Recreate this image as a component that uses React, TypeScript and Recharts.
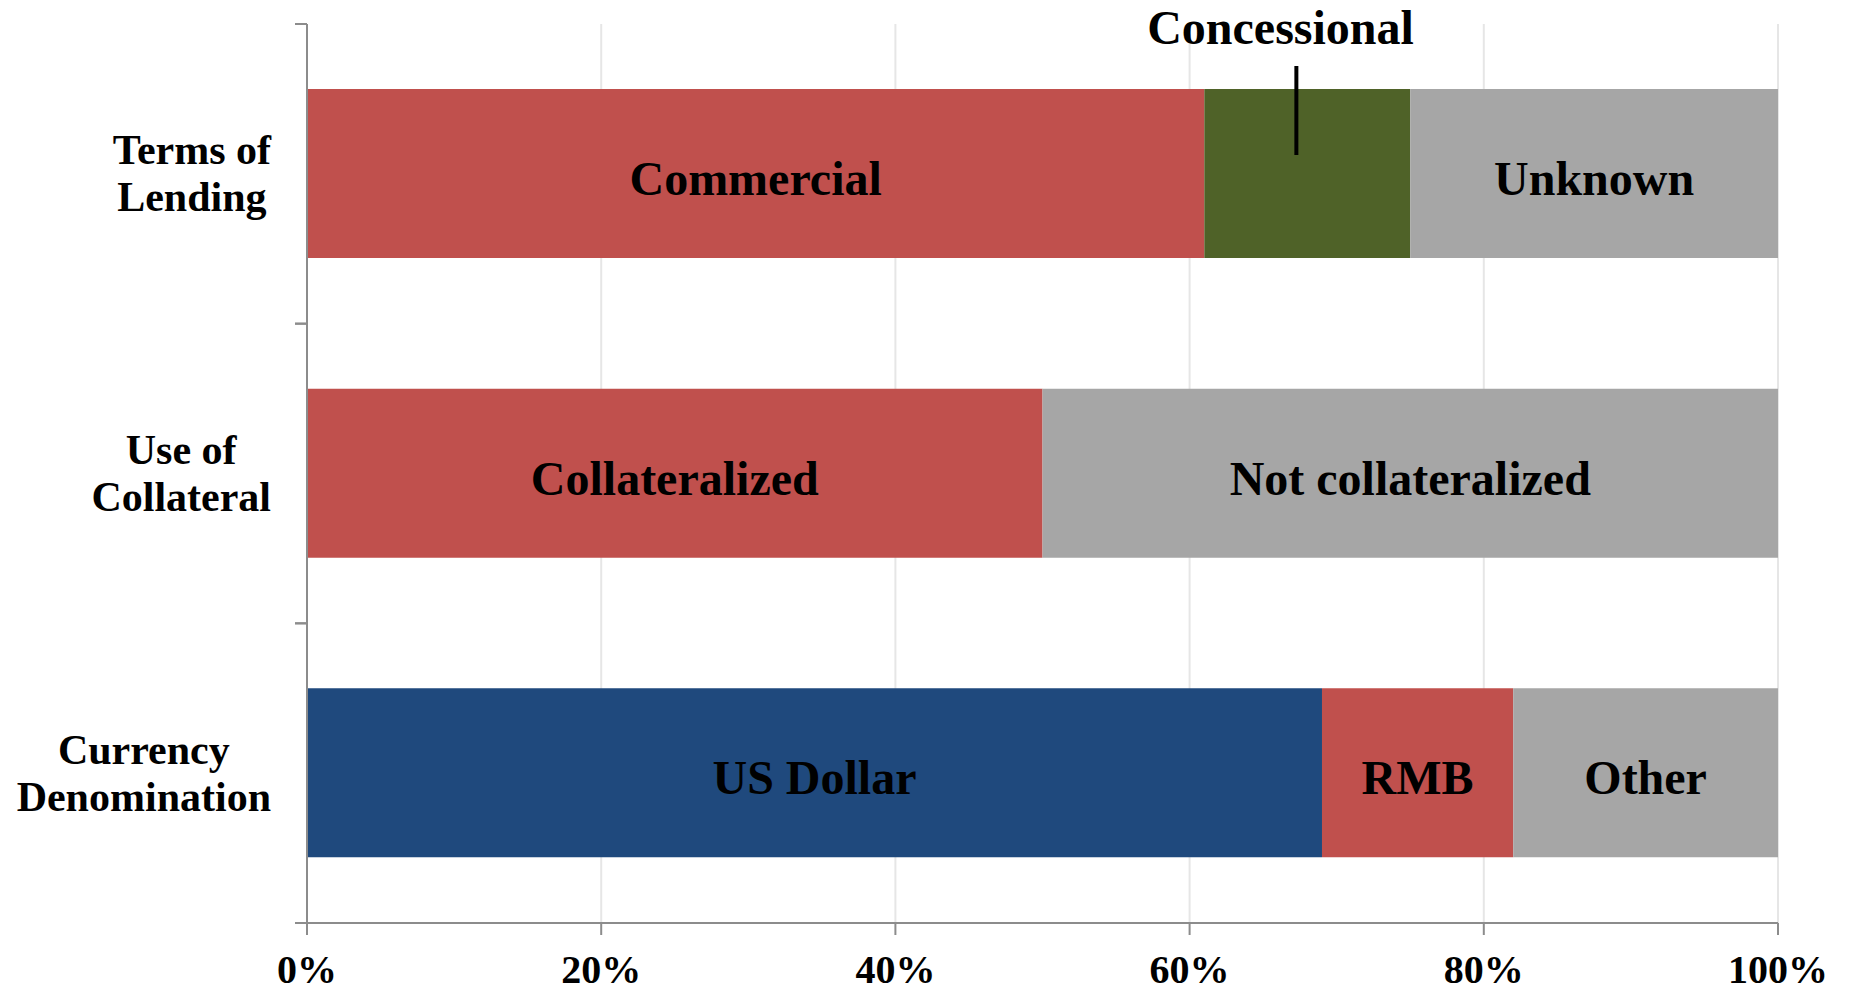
import { BarChart, Bar, XAxis, YAxis, CartesianGrid, Cell, LabelList } from "recharts";

const FONT = "'Liberation Serif', 'Times New Roman', serif";

// rows, top to bottom
const categories = [["Terms of", "Lending"], ["Use of", "Collateral"], ["Currency", "Denomination"]];

// three stacked segments per row (percent)
const seg1Values = [61, 50, 69];
const seg2Values = [14, 50, 13];
const seg3Values = [25, 0, 18];

const seg1Labels = ["Commercial", "Collateralized", "US Dollar"];
const seg2Labels = ["Concessional", "Not collateralized", "RMB"];
const seg3Labels = ["Unknown", "", "Other"];

const xTicks = [0, 20, 40, 60, 80, 100];

const RED = "#C0504D";
const GREEN = "#4F6228";
const GRAY = "#A6A6A6";
const BLUE = "#1F497D";
const AXIS = "#8C8C8C";

const seg1Colors = [RED, RED, BLUE];
const seg2Colors = [GREEN, GRAY, RED];
const seg3Colors = [GRAY, GRAY, GRAY];

const data = categories.map((c, i) => ({
  name: c.join(" "),
  s1: seg1Values[i],
  s2: seg2Values[i],
  s3: seg3Values[i],
  l1: seg1Labels[i],
  l2: seg2Labels[i],
  l3: seg3Labels[i],
}));

// chart is pulled up over the body margin so the top label has room
const W = 1833;
const H = 991;
const MARGIN = { top: 24, right: 63, left: 0, bottom: 8 };
const Y_W = 299;
const X_H = 60;
const PLOT_H = H - MARGIN.top - MARGIN.bottom - X_H;
const BAND = PLOT_H / categories.length;

let ctx: CanvasRenderingContext2D | null = null;
function textWidth(s: string, font: string) {
  if (!ctx) ctx = document.createElement("canvas").getContext("2d");
  if (!ctx) return s.length * 20;
  ctx.font = font;
  return ctx.measureText(s).width;
}

function CategoryTick(props: any) {
  const { y, index } = props;
  const lines = categories[index] || [];
  const axisX = MARGIN.left + Y_W;
  const fs = 42;
  const lh = 47;
  const blockW = Math.max(...lines.map((l) => textWidth(l, `bold ${fs}px ${FONT}`)));
  const cx = axisX - 36 - blockW / 2;
  const y0 = y - ((lines.length - 1) * lh) / 2;
  return (
    <g>
      <line x1={axisX - 12} x2={axisX} y1={y - BAND / 2} y2={y - BAND / 2} stroke={AXIS} strokeWidth={2} />
      <line x1={axisX - 12} x2={axisX} y1={y + BAND / 2} y2={y + BAND / 2} stroke={AXIS} strokeWidth={2} />
      {lines.map((l, i) => (
        <text
          key={l}
          x={cx}
          y={y0 + i * lh}
          textAnchor="middle"
          dominantBaseline="central"
          fontFamily={FONT}
          fontWeight="bold"
          fontSize={fs}
          fill="#000"
        >
          {l}
        </text>
      ))}
    </g>
  );
}

function SegmentLabel(props: any) {
  const { x, y, width, height, value } = props;
  if (!value || !width) return null;
  if (value === "Concessional") {
    return (
      <g>
        <text
          x={x + width * 0.37}
          y={y - 45}
          textAnchor="middle"
          fontFamily={FONT}
          fontWeight="bold"
          fontSize={48}
          fill="#000"
        >
          {value}
        </text>
        <line x1={x + width * 0.447} x2={x + width * 0.447} y1={y - 23} y2={y + 66} stroke="#000" strokeWidth={4} />
      </g>
    );
  }
  return (
    <text
      x={x + width / 2}
      y={y + height / 2 + 5}
      textAnchor="middle"
      dominantBaseline="central"
      fontFamily={FONT}
      fontWeight="bold"
      fontSize={48}
      fill="#000"
    >
      {value}
    </text>
  );
}

export default function App() {
  return (
    <div style={{ width: W, height: H, marginTop: -8, background: "#fff" }}>
      <BarChart width={W} height={H} data={data} layout="vertical" margin={MARGIN} barSize={169}>
        <CartesianGrid horizontal={false} stroke="#E6E6E6" strokeWidth={2} />
        <XAxis
          type="number"
          domain={[0, 100]}
          ticks={xTicks}
          tickFormatter={(v: number) => v + "%"}
          height={X_H}
          axisLine={{ stroke: AXIS, strokeWidth: 2 }}
          tickLine={{ stroke: AXIS, strokeWidth: 2 }}
          tickSize={12}
          tickMargin={20}
          tick={{ fill: "#000", fontSize: 40, fontWeight: "bold", fontFamily: FONT }}
          interval={0}
        />
        <YAxis
          type="category"
          dataKey="name"
          width={Y_W}
          axisLine={{ stroke: AXIS, strokeWidth: 2 }}
          tickLine={false}
          tick={<CategoryTick />}
          interval={0}
        />
        <Bar dataKey="s1" stackId="a" isAnimationActive={false}>
          {data.map((_, i) => (
            <Cell key={i} fill={seg1Colors[i]} />
          ))}
          <LabelList dataKey="l1" content={<SegmentLabel />} />
        </Bar>
        <Bar dataKey="s2" stackId="a" isAnimationActive={false}>
          {data.map((_, i) => (
            <Cell key={i} fill={seg2Colors[i]} />
          ))}
          <LabelList dataKey="l2" content={<SegmentLabel />} />
        </Bar>
        <Bar dataKey="s3" stackId="a" isAnimationActive={false}>
          {data.map((_, i) => (
            <Cell key={i} fill={seg3Colors[i]} />
          ))}
          <LabelList dataKey="l3" content={<SegmentLabel />} />
        </Bar>
      </BarChart>
    </div>
  );
}
